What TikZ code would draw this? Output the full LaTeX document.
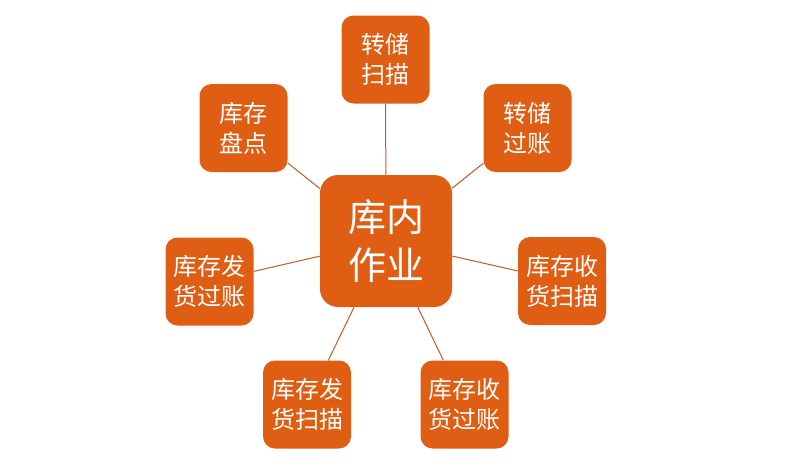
\documentclass[tikz,border=0pt]{standalone}
\usepackage{fontspec}
\newfontfamily\cjk{Noto Sans CJK SC}
\definecolor{boxorange}{HTML}{E05E14}
\definecolor{lineorange}{HTML}{C8591E}
\begin{document}
\begin{tikzpicture}[x=1pt,y=-1pt,
  sat/.style={fill=boxorange, draw=none, rounded corners=12pt, minimum width=88pt, minimum height=88pt, text=white, font=\cjk\fontsize{24}{30}\selectfont, align=center, inner sep=0pt},
  hub/.style={fill=boxorange, draw=none, rounded corners=18pt, minimum width=132pt, minimum height=132pt, text=white, font=\cjk\fontsize{38}{48}\selectfont, align=center, inner sep=0pt},
  link/.style={draw=lineorange, line width=1pt}]
\useasboundingbox (0,0) rectangle (800,466);
\node[hub] (c) at (386,241) {库内\\作业};
\node[sat] (t)  at (385.5,59.5) {转储\\扫描};
\node[sat] (tr) at (527.5,128) {转储\\过账};
\node[sat] (r)  at (562,281) {库存收\\货扫描};
\node[sat] (br) at (464.5,404.5) {库存收\\货过账};
\node[sat] (bl) at (307,404.5) {库存发\\货扫描};
\node[sat] (l)  at (209.5,281.5) {库存发\\货过账};
\node[sat] (tl) at (243.5,128) {库存\\盘点};
\foreach \n in {t,tr,r,br,bl,l,tl} \draw[link] (c) -- (\n);
\end{tikzpicture}
\end{document}
